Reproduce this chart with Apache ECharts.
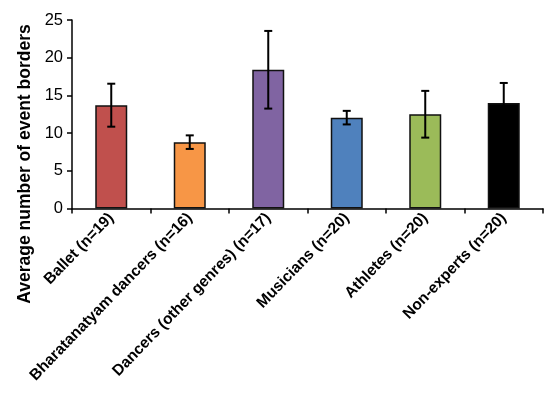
<!DOCTYPE html>
<html>
<head>
<meta charset="utf-8">
<script src="https://cdn.jsdelivr.net/npm/echarts@6/dist/echarts.min.js"></script>
<style>html,body{margin:0;padding:0;background:#fff;}#c{width:550px;height:393px;}</style>
</head>
<body>
<div id="c"></div>
<script>
var categories = ['Ballet (n=19)', 'Bharatanatyam dancers (n=16)', 'Dancers (other genres) (n=17)', 'Musicians (n=20)', 'Athletes (n=20)', 'Non-experts (n=20)'];
var means = [13.7, 8.8, 18.4, 12.05, 12.5, 14.0];
var errors = [2.85, 0.9, 5.15, 0.9, 3.1, 2.65];
var colors = ['#C0504D', '#F79646', '#8064A2', '#4F81BD', '#9BBB59', '#000000'];
var yTicks = [0, 5, 10, 15, 20, 25];
var yTitle = 'Average number of event borders';

var chart = echarts.init(document.getElementById('c'));
var errData = means.map(function (m, i) { return [i, m - errors[i], m + errors[i]]; });
chart.setOption({
  animation: false,
  grid: { left: 72, right: 7, top: 20, bottom: 184.5 },
  xAxis: {
    type: 'category',
    data: categories,
    axisLine: { lineStyle: { color: '#000', width: 1.5 } },
    axisTick: { show: true, alignWithLabel: false, length: 5, lineStyle: { color: '#000', width: 1.5 } },
    axisLabel: { rotate: 46, interval: 0, color: '#000', fontFamily: 'Liberation Sans, Arial, sans-serif', fontWeight: 'bold', fontSize: 15.5, margin: 7 }
  },
  yAxis: {
    type: 'value',
    min: yTicks[0], max: yTicks[yTicks.length - 1], interval: 5,
    splitLine: { show: false },
    axisLine: { show: true, lineStyle: { color: '#000', width: 1.5 } },
    axisTick: { show: true, length: 5, lineStyle: { color: '#000', width: 1.5 } },
    axisLabel: { color: '#000', fontFamily: 'Liberation Sans, Arial, sans-serif', fontSize: 16.5, margin: 9 }
  },
  graphic: [{
    type: 'text',
    x: 16, y: 164,
    rotation: Math.PI / 2,
    style: {
      text: yTitle,
      fill: '#000',
      font: 'bold 17.5px "Liberation Sans", Arial, sans-serif',
      textAlign: 'center',
      textVerticalAlign: 'top'
    }
  }],
  series: [{
    type: 'bar',
    data: means.map(function (v, i) { return { value: v, itemStyle: { color: colors[i] } }; }),
    barWidth: 32,
    itemStyle: { borderColor: '#111', borderWidth: 1.5 }
  }, {
    type: 'custom',
    data: errData,
    z: 10,
    renderItem: function (params, api) {
      var x = api.coord([api.value(0), api.value(1)])[0];
      var lo = api.coord([api.value(0), api.value(1)])[1];
      var hi = api.coord([api.value(0), api.value(2)])[1];
      var hw = 4;
      var st = { stroke: '#000', lineWidth: 2 };
      return {
        type: 'group',
        children: [
          { type: 'line', shape: { x1: x, y1: lo, x2: x, y2: hi }, style: st },
          { type: 'line', shape: { x1: x - hw, y1: lo, x2: x + hw, y2: lo }, style: st },
          { type: 'line', shape: { x1: x - hw, y1: hi, x2: x + hw, y2: hi }, style: st }
        ]
      };
    }
  }]
});
</script>
</body>
</html>
